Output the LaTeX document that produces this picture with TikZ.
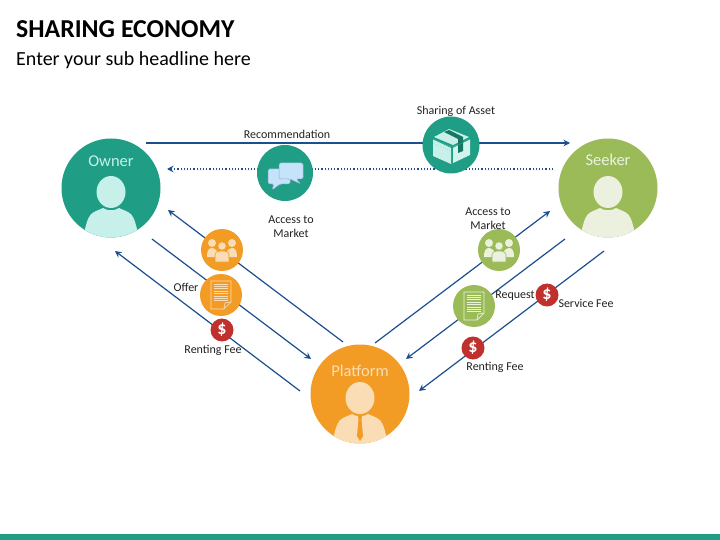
\documentclass[tikz,border=0pt]{standalone}
\usepackage{fontspec}
\setmainfont{Carlito}
\usetikzlibrary{arrows.meta}
\definecolor{teal}{HTML}{1F9E85}
\definecolor{teallt}{HTML}{C6F0E9}
\definecolor{grn}{HTML}{9BBB59}
\definecolor{grnlt}{HTML}{EBF1DE}
\definecolor{org}{HTML}{F29C26}
\definecolor{orglt}{HTML}{FBDDB5}
\definecolor{rd}{HTML}{C0302C}
\definecolor{navy}{HTML}{1B4F8F}
\definecolor{ink}{HTML}{222222}
\definecolor{bubble}{HTML}{C5E3FA}
\tikzset{
  x=1pt,y=-1pt,
  flow/.style={draw=navy,line width=1.2pt,-{Stealth[length=6.5pt,width=6.5pt]}},
  dotflow/.style={flow,dotted,line width=1.3pt},
  bigcirc/.style={circle,minimum size=99pt,inner sep=0pt,fill=#1},
  iconcirc/.style={circle,inner sep=0pt,fill=#1,minimum size=42pt},
  feecirc/.style={circle,inner sep=0pt,fill=rd,minimum size=23pt,text=white,font=\fontsize{18}{18}\bfseries\selectfont},
  lab/.style={text=ink,font=\fontsize{12}{14}\selectfont,align=center,inner sep=0pt},
  headlab/.style={font=\fontsize{16.5}{16.5}\selectfont,inner sep=0pt},
}
\newcommand{\personfig}[4]{% name, x, y, light colour
  \begin{scope}
    \clip (#2,#3) circle (49.5);
    \fill[#4] (#2,#3+4) ellipse (14.5 and 16);
    \fill[#4] (#2-26,#3+41) -- (#2-26,#3+52) -- (#2+26,#3+52) -- (#2+26,#3+41)
      .. controls (#2+24,#3+33) and (#2+22,#3+26) .. (#2+17,#3+24)
      .. controls (#2+13,#3+22) and (#2+10,#3+21) .. (#2+8,#3+20)
      .. controls (#2+4,#3+23) and (#2-4,#3+23) .. (#2-8,#3+20)
      .. controls (#2-10,#3+21) and (#2-13,#3+22) .. (#2-17,#3+24)
      .. controls (#2-22,#3+26) and (#2-24,#3+33) .. (#2-26,#3+41) -- cycle;
  \end{scope}}
\newcommand{\groupicon}[4]{% x, y, light, bg
  \fill[#3] (#1-10,#2-7) circle (4);
  \fill[#3] (#1+10,#2-7) circle (4);
  \fill[#3] (#1-15,#2+7) .. controls (#1-15,#2+0) and (#1-13,#2-2) .. (#1-10,#2-2) .. controls (#1-8,#2-2) and (#1-6,#2-1) .. (#1-4,#2+3) -- (#1-4,#2+7) -- cycle;
  \fill[#3] (#1+15,#2+7) .. controls (#1+15,#2+0) and (#1+13,#2-2) .. (#1+10,#2-2) .. controls (#1+8,#2-2) and (#1+6,#2-1) .. (#1+4,#2+3) -- (#1+4,#2+7) -- cycle;
  \fill[#3,draw=#4,line width=.6pt] (#1,#2-4) circle (4.2);
  \fill[#3,draw=#4,line width=.6pt] (#1-7,#2+12) -- (#1-7,#2+5) .. controls (#1-7,#2+2) and (#1-4,#2+1) .. (#1,#2+1) .. controls (#1+4,#2+1) and (#1+7,#2+2) .. (#1+7,#2+5) -- (#1+7,#2+12) -- cycle;}
\newcommand{\docicon}[4]{% x, y, light, bg
  \draw[#3,line width=.7pt] (#1-10,#2-14) -- (#1+10,#2-14) -- (#1+10,#2+7) -- (#1+3,#2+14) -- (#1-10,#2+14) -- cycle;
  \draw[#3,line width=.7pt] (#1+10,#2+7) -- (#1+4,#2+8) -- (#1+3,#2+14);
  \foreach \q in {-11,-8.6,-6.2,-3.8,-1.4,1,3.4,5.8}
    \draw[#3,line width=1pt] (#1-7,#2+\q) -- (#1+7,#2+\q);}
\begin{document}
\begin{tikzpicture}
\useasboundingbox (0,0) rectangle (720,540);
\fill[white] (0,0) rectangle (720,540);
\fill[teal] (0,534) rectangle (720,540);

\node[anchor=west,inner sep=0pt,text=black,font=\fontsize{25.8}{26}\bfseries\selectfont] (title) at (16,29) {SHARING ECONOMY};
\node[anchor=west,inner sep=0pt,text=black,font=\fontsize{20}{20}\selectfont] (subtitle) at (16,60.5) {Enter your sub headline here};

% free ends of connectors
\coordinate (recA) at (146,143);  \coordinate (recB) at (570,143);
\coordinate (dotA) at (553,169);  \coordinate (dotB) at (167,169);
\coordinate (l1A) at (343,342);   \coordinate (l1B) at (168,210);
\coordinate (l2A) at (152,239);   \coordinate (l2B) at (311,359);
\coordinate (l3A) at (300,391);   \coordinate (l3B) at (115,251);
\coordinate (r1A) at (375,343);   \coordinate (r1B) at (550,211);
\coordinate (r2A) at (565,239);   \coordinate (r2B) at (406,359);
\coordinate (r3A) at (604,251);   \coordinate (r3B) at (419,391);

\draw[flow] (recA) -- (recB);
\draw[dotflow] (dotA) -- (dotB);
\draw[flow] (l1A) -- (l1B);
\draw[flow] (l2A) -- (l2B);
\draw[flow] (l3A) -- (l3B);
\draw[flow] (r1A) -- (r1B);
\draw[flow] (r2A) -- (r2B);
\draw[flow] (r3A) -- (r3B);

% main circles
\node[bigcirc=teal] (owner) at (111,188) {};
\personfig{owner}{111}{188}{teallt}
\node[headlab,text=teallt] (ownerlab) at (111,161) {Owner};
\node[bigcirc=grn] (seeker) at (608,188) {};
\personfig{seeker}{608}{188}{grnlt}
\node[headlab,text=grnlt] (seekerlab) at (608,160) {Seeker};
\node[bigcirc=org] (platform) at (360,394) {};
\personfig{platform}{360}{394}{orglt}
\fill[org] (358,416) -- (362,416) -- (361.5,420) -- (363,436) -- (360,441) -- (357,436) -- (358.5,420) -- cycle;
\node[headlab,text=orglt] (platformlab) at (360,371) {Platform};

% chat icon
\node[iconcirc=teal,minimum size=56pt] (chat) at (285,173) {};
\draw[navy!45,fill=bubble,line width=.5pt,rounded corners=1.5pt] (268,169) -- (290,169) -- (290,184) -- (280,184) -- (272,190) -- (274,184) -- (268,184) -- cycle;
\draw[navy!45,fill=bubble,line width=.5pt,rounded corners=1.5pt] (279,163) -- (303,163) -- (303,179) -- (296,179) -- (301,184) -- (290,179) -- (279,179) -- cycle;

% box icon
\node[iconcirc=teal,minimum size=57pt] (box) at (451,145) {};
\fill[teallt] (433,143) -- (451,151) -- (451,164) -- (433,156) -- cycle;
\fill[teallt] (433,143) -- (433,139) -- (451,147) -- (451,151) -- cycle;
\fill[teallt!80!white] (451,164) -- (470,155) -- (470,139) -- (453,147) -- (453,164) -- cycle;
\fill[teallt] (434,137) -- (449,129) -- (469,137) -- (453,145) -- cycle;
\fill[teal!75!black] (444,132) -- (449,130) -- (463,137) -- (463,151) -- (458,153) -- (458,139) -- cycle;
\draw[teal,line width=.6pt] (433,139) -- (452,148) -- (470,139);
\draw[teal,line width=.6pt] (452,148) -- (452,164);

% left small icons
\node[iconcirc=org] (peopleL) at (222,250) {};
\groupicon{222}{250}{orglt}{org}
\node[iconcirc=org] (docL) at (221,295) {};
\docicon{221}{295}{orglt}{org}
\node[feecirc] (feeL) at (222,330) {\$};

% right small icons
\node[iconcirc=grn] (peopleR) at (499,250) {};
\groupicon{499}{250}{grnlt}{grn}
\node[iconcirc=grn] (docR) at (474,306) {};
\docicon{474}{306}{grnlt}{grn}
\node[feecirc] (feeR1) at (547,295) {\$};
\node[feecirc] (feeR2) at (473,348) {\$};

% labels
\node[lab] (lrec) at (287,134) {Recommendation};
\node[lab] (lshare) at (456,111) {Sharing of Asset};
\node[lab] (laccL) at (291,227) {Access to\\Market};
\node[lab] (laccR) at (488,219) {Access to\\Market};
\node[lab] (loffer) at (186,287) {Offer};
\node[lab] (lrentL) at (213,350) {Renting Fee};
\node[lab] (lreq) at (515,296) {Request};
\node[lab] (lserv) at (586,303) {Service Fee};
\node[lab] (lrentR) at (495,367) {Renting Fee};
\end{tikzpicture}
\end{document}
